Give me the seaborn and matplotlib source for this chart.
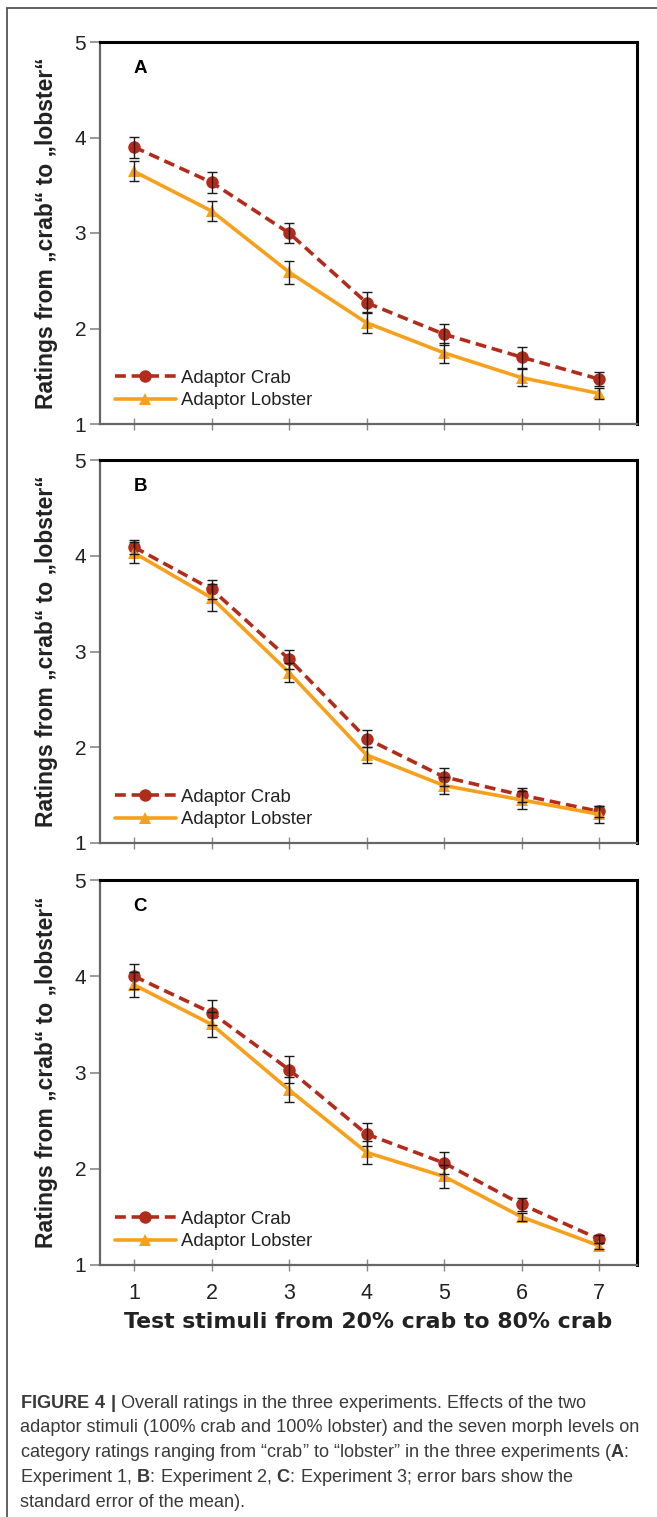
import matplotlib as mpl
import matplotlib.pyplot as plt
import matplotlib.lines as mlines
import numpy as np
import pandas as pd
import seaborn as sns

# test stimuli (morph levels)
niveis = [1, 2, 3, 4, 5, 6, 7]

# Experiment 1 (A)
a_crab = [3.90, 3.53, 3.00, 2.27, 1.94, 1.70, 1.47]
a_crab_se = [0.11, 0.11, 0.10, 0.11, 0.11, 0.11, 0.075]
a_lob = [3.645, 3.23, 2.59, 2.06, 1.745, 1.485, 1.32]
a_lob_se = [0.105, 0.10, 0.12, 0.11, 0.105, 0.09, 0.06]

# Experiment 2 (B)
b_crab = [4.09, 3.65, 2.92, 2.09, 1.69, 1.50, 1.33]
b_crab_se = [0.07, 0.10, 0.10, 0.09, 0.09, 0.07, 0.06]
b_lob = [4.03, 3.56, 2.78, 1.92, 1.60, 1.45, 1.30]
b_lob_se = [0.11, 0.14, 0.10, 0.08, 0.09, 0.09, 0.09]

# Experiment 3 (C)
c_crab = [4.00, 3.62, 3.03, 2.36, 2.06, 1.63, 1.27]
c_crab_se = [0.13, 0.13, 0.14, 0.12, 0.11, 0.07, 0.04]
c_lob = [3.91, 3.50, 2.82, 2.17, 1.92, 1.50, 1.20]
c_lob_se = [0.13, 0.13, 0.13, 0.12, 0.12, 0.04, 0.03]

y_ticks = [1, 2, 3, 4, 5]
paineis = ['A', 'B', 'C']

cor_crab = '#b22c1c'
cor_lob = '#f7a01c'
cor_texto = '#222222'

sns.set_style('white')
plt.rcParams['font.family'] = ['Liberation Sans', 'DejaVu Sans']
plt.rcParams['mathtext.fontset'] = 'custom'
plt.rcParams['mathtext.rm'] = 'Liberation Sans'
plt.rcParams['mathtext.bf'] = 'Liberation Sans:bold'

fig = plt.figure(figsize=(6.57, 15.17), dpi=100, facecolor='white')
W, H = 657, 1517


def px_axes(left, top, right, bottom):
    return fig.add_axes([left / W, 1 - bottom / H, (right - left) / W, (bottom - top) / H])


caixas = [(100, 42, 637, 424), (100, 460, 637, 843), (100, 880, 637, 1265)]
dados = [
    (a_crab, a_crab_se, a_lob, a_lob_se),
    (b_crab, b_crab_se, b_lob, b_lob_se),
    (c_crab, c_crab_se, c_lob, c_lob_se),
]

for i, (caixa, (crab, crab_se, lob, lob_se), letra) in enumerate(zip(caixas, dados, paineis)):
    ax = px_axes(*caixa)
    df = pd.DataFrame({
        'nivel': niveis * 2,
        'rating': crab + lob,
        'adaptor': ['Adaptor Crab'] * 7 + ['Adaptor Lobster'] * 7,
    })
    sns.lineplot(data=df, x='nivel', y='rating', hue='adaptor', style='adaptor',
                 palette=[cor_crab, cor_lob], markers=['o', '^'],
                 dashes=[(3, 1.6), ''], linewidth=2.6, markersize=9,
                 markeredgewidth=0, ax=ax, zorder=3)
    ax.errorbar(niveis, crab, yerr=crab_se, fmt='none', ecolor='#1a1a1a',
                elinewidth=1.0, capsize=3.5, capthick=1.0, zorder=4)
    ax.errorbar(niveis, lob, yerr=lob_se, fmt='none', ecolor='#1a1a1a',
                elinewidth=1.0, capsize=3.5, capthick=1.0, zorder=4)

    ax.set_xlim(0.56, 7.49)
    ax.set_ylim(1, 5)
    ax.set_yticks(y_ticks)
    ax.set_xticks(niveis)
    ax.tick_params(axis='y', direction='out', length=7, width=1.2, color='#888888',
                   labelsize=15, labelcolor=cor_texto, pad=3, left=True)
    ax.tick_params(axis='x', direction='inout', length=8, width=1.0, color='#888888',
                   labelsize=15.5, labelcolor=cor_texto, pad=9, bottom=True)
    if i < 2:
        ax.set_xticklabels([])
        ax.set_xlabel('')
    else:
        ax.set_xlabel('Test stimuli from 20% crab to 80% crab', family='DejaVu Sans',
                      fontweight='bold', fontsize=15.8, color=cor_texto, labelpad=6)

    ax.set_ylabel('Ratings from \u201ecrab\u201c to \u201elobster\u201c', fontweight='bold',
                  fontsize=16.5, color=cor_texto, labelpad=12)

    for lado in ['top', 'right']:
        ax.spines[lado].set_color('black')
        ax.spines[lado].set_linewidth(2.2)
    for lado in ['left', 'bottom']:
        ax.spines[lado].set_color('#666666')
        ax.spines[lado].set_linewidth(1.6)

    ax.text(0.075, 0.93, letra, transform=ax.transAxes, fontsize=13.5,
            fontweight='bold', color='black', va='center', ha='center')

    leg = ax.legend(loc='lower left', bbox_to_anchor=(0.0, 0.0), frameon=False,
                    fontsize=13.3, handlelength=3.3, handletextpad=0.3,
                    labelspacing=0.3, borderaxespad=0.4, labelcolor=cor_texto)
    for h in leg.legend_handles:
        h.set_linewidth(2.6)

# moldura externa
fig.add_artist(mlines.Line2D([7 / W, 1], [1 - 8 / H, 1 - 8 / H], color='#555555', lw=1.3))
fig.add_artist(mlines.Line2D([7 / W, 7 / W], [1 - 8 / H, 0], color='#555555', lw=1.3))

# legenda da figura
linhas = [
    r'$\bf{FIGURE\ 4\ |}$ Overall ratings in the three experiments. Effects of the two',
    'adaptor stimuli (100% crab and 100% lobster) and the seven morph levels on',
    'category ratings ranging from \u201ccrab\u201d to \u201clobster\u201d in the three experiments ($\\bf{A}$:',
    'Experiment 1, $\\bf{B}$: Experiment 2, $\\bf{C}$: Experiment 3; error bars show the',
    'standard error of the mean).',
]
textos = []
for k, linha in enumerate(linhas):
    textos.append(fig.text(20 / W, 1 - (1403 + k * 24.8) / H, linha, fontsize=10,
                           color='#3a3a3a', va='center', ha='left'))

# ajusta o tamanho para que a segunda linha ocupe a mesma largura do original
renderer = fig.canvas.get_renderer()
largura = textos[1].get_window_extent(renderer).width
tamanho = 10 * 624 / largura
for t in textos:
    t.set_fontsize(tamanho)

plt.savefig('out.png', dpi=100, facecolor='white')
